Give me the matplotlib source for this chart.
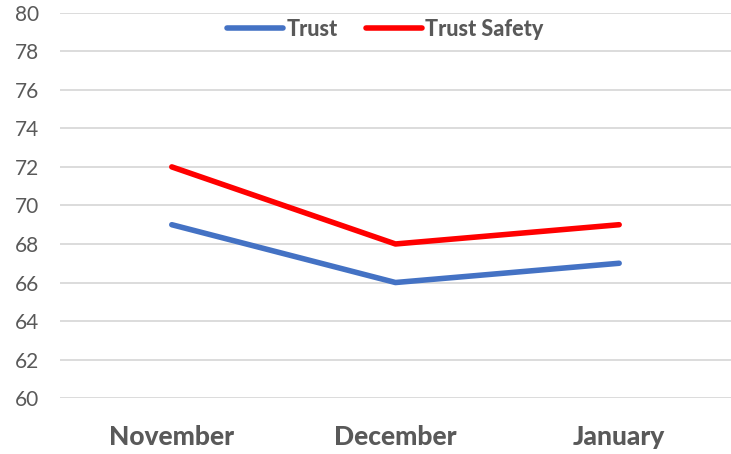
import matplotlib.pyplot as plt

months = ["November", "December", "January"]
trust = [69, 66, 67]
trust_safety = [72, 68, 69]
yticks = list(range(60, 81, 2))

plt.rcParams['font.family'] = ['Lato', 'DejaVu Sans']

fig = plt.figure(figsize=(7.31, 4.54), dpi=100)
ax = fig.add_axes([0.082, 0.123, 0.918, 0.849])

x = range(len(months))
ax.plot(x, trust, color="#4472C4", lw=4, solid_capstyle="round", label="Trust")
ax.plot(x, trust_safety, color="#FF0000", lw=4, solid_capstyle="round", label="Trust Safety")

ax.set_xlim(-0.5, len(months) - 0.5)
ax.set_ylim(60, 80)
ax.set_yticks(yticks)
ax.set_xticks(list(x))
ax.set_xticklabels(months, fontsize=19, fontweight="black", color="#595959")
ax.tick_params(axis="y", labelsize=15, colors="#595959", length=0, pad=15)
ax.tick_params(axis="x", length=0, pad=19)
ax.grid(axis="y", color="#D9D9D9", lw=1.3)
ax.set_axisbelow(True)
for s in ax.spines.values():
    s.set_visible(False)

# legend sits over the top gridline, a bit left of centre
leg = ax.legend(loc="upper center", bbox_to_anchor=(0.485, 1.035), ncol=2, frameon=False,
                prop={"weight": "black", "size": 15.5}, handlelength=2.6, handletextpad=0.15,
                columnspacing=1.3)
for t in leg.get_texts():
    t.set_color("#595959")

fig.savefig("out.png", dpi=100)
